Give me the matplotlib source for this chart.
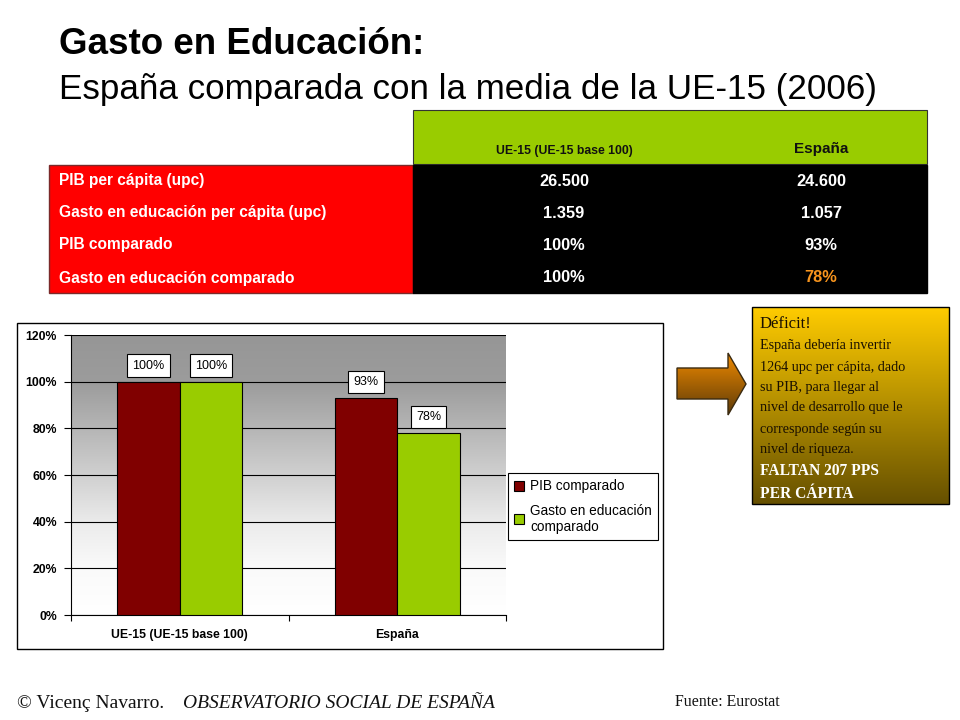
import numpy as np
import matplotlib
matplotlib.use("Agg")
import matplotlib.pyplot as plt
from matplotlib.colors import LinearSegmentedColormap
from matplotlib.patches import Polygon, Rectangle

SANS = "Liberation Sans"
SERIF = "Liberation Serif"

categories = ["UE-15 (UE-15 base 100)", "España"]
pib_comparado = [100, 93]
gasto_comparado = [100, 78]
series_names = ["PIB comparado", "Gasto en educación\ncomparado"]
y_ticks = [0, 20, 40, 60, 80, 100, 120]

row_labels = ["PIB per cápita (upc)", "Gasto en educación per cápita (upc)",
              "PIB comparado", "Gasto en educación comparado"]
col_ue15 = ["26.500", "1.359", "100%", "100%"]
col_espana = ["24.600", "1.057", "93%", "78%"]

note_lines = ["España debería invertir", "1264 upc per cápita, dado", "su PIB, para llegar al",
              "nivel de desarrollo que le", "corresponde según su", "nivel de riqueza."]

W, H = 960, 720
fig = plt.figure(figsize=(9.6, 7.2), dpi=100, facecolor="white")

# full-figure layer, in pixels, for the slide furniture
bg = fig.add_axes([0, 0, 1, 1], zorder=0)
bg.axis("off")


def vgrad(c1, c2):
    return LinearSegmentedColormap.from_list("g", [c1, c2])


ramp = np.linspace(0, 1, 256).reshape(-1, 1)

bg.text(59, 45, "Gasto en Educación:", family=SANS, weight="bold", fontsize=26.5, va="center", color="black")
bg.text(59, 89, "España comparada con la media de la UE-15 (2006)", family=SANS, fontsize=25.2, va="center", color="black")

# table
bg.add_patch(Rectangle((413, 110), 514, 54, fc="#99CC00", ec="#333333", lw=0.8))
bg.add_patch(Rectangle((48.5, 164.5), 364.5, 128.5, fc="#FF0000", ec="#7a2a2a", lw=1))
bg.add_patch(Rectangle((413, 164.5), 514, 128.5, fc="black", ec="black", lw=1))
bg.text(564.5, 151, categories[0], family=SANS, weight="bold", fontsize=8.8, ha="center", va="center", color="#111111")
bg.text(821, 149, categories[1], family=SANS, weight="bold", fontsize=11, ha="center", va="center", color="#111111")
row_y = [181, 213, 245, 278]
for y, lab, a, b in zip(row_y, row_labels, col_ue15, col_espana):
    bg.text(59, y, lab, family=SANS, weight="bold", fontsize=11.2, va="center", color="white")
    bg.text(564, y, a, family=SANS, weight="bold", fontsize=11.8, ha="center", va="center", color="white")
    bg.text(821, y, b, family=SANS, weight="bold", fontsize=11.8, ha="center", va="center",
            color="#F7941D" if b == "78%" else "white")

# chart frame
bg.add_patch(Rectangle((16.5, 322.5), 646, 326.5, fc="white", ec="black", lw=1))

# arrow
arrow_pts = [(677, 368), (728, 368), (728, 353), (746, 384), (728, 415), (728, 399), (677, 399)]
arrow_im = bg.imshow(ramp, extent=[677, 746, 415, 353], cmap=vgrad("#F08A00", "#5C3A08"), aspect="auto", zorder=2)
arrow = Polygon(arrow_pts, closed=True, fc="none", ec="#3a2a10", lw=1, zorder=3)
bg.add_patch(arrow)
arrow_im.set_clip_path(arrow)

# note box
bg.imshow(ramp, extent=[752, 949, 504, 307], cmap=vgrad("#FFCC00", "#665000"), aspect="auto", zorder=2)
bg.add_patch(Rectangle((752, 307), 197, 197, fc="none", ec="black", lw=1, zorder=3))
bg.text(760, 324, "Déficit!", family=SERIF, fontsize=12, va="center", color="#1a1000", zorder=4)
for y, line in zip([346, 367, 387, 408, 429, 450], note_lines):
    bg.text(760, y, line, family=SERIF, fontsize=10.2, va="center", color="#1a1000", zorder=4)
bg.text(760, 471, "FALTAN 207 PPS", family=SERIF, weight="bold", fontsize=11.2, va="center", color="white", zorder=4)
bg.text(760, 494, "PER CÁPITA", family=SERIF, weight="bold", fontsize=11.2, va="center", color="white", zorder=4)

# footer
t = bg.text(17, 703, "© Vicenç Navarro. ", family=SERIF, fontsize=14, va="center", color="#111111")
bg.text(183, 703, "OBSERVATORIO SOCIAL DE ESPAÑA", family=SERIF, style="italic", fontsize=14, va="center", color="#111111")
bg.text(675, 702, "Fuente: Eurostat", family=SERIF, fontsize=11.4, va="center", color="#111111")

bg.set_xlim(0, W)
bg.set_ylim(H, 0)

# bar chart
L, R, T, B = 71, 506, 335, 615
ax = fig.add_axes([L / W, 1 - B / H, (R - L) / W, (B - T) / H], zorder=2)
ax.set_facecolor("none")
cmap = LinearSegmentedColormap.from_list(
    "plot", [(0, "#FFFFFF"), (0.17, "#FAFAFA"), (0.33, "#EBEBEB"), (0.5, "#D0D0D0"),
             (0.67, "#B5B5B5"), (0.83, "#9C9C9C"), (1, "#969696")])
ax.imshow(ramp[::-1], extent=[0, 2, 0, 120], cmap=cmap, aspect="auto", zorder=0)

x = np.arange(len(categories)) + 0.5
width = 0.288
b1 = ax.bar(x - width / 2, pib_comparado, width, color="#800000", edgecolor="black", lw=0.8, zorder=3, label=series_names[0])
b2 = ax.bar(x + width / 2, gasto_comparado, width, color="#99CC00", edgecolor="black", lw=0.8, zorder=3, label=series_names[1])
for bars in (b1, b2):
    for r in bars:
        ax.annotate(f"{r.get_height():.0f}%", (r.get_x() + r.get_width() / 2, r.get_height()),
                    xytext=(0, 10), textcoords="offset pixels", ha="center", va="bottom",
                    family=SANS, fontsize=9, color="black", zorder=5,
                    bbox=dict(boxstyle="square,pad=0.42", fc="white", ec="black", lw=0.8))

ax.set_xlim(0, 2)
ax.set_ylim(0, 120)
ax.set_yticks(y_ticks)
ax.set_yticklabels([f"{v}%" for v in y_ticks], family=SANS, weight="bold", fontsize=8.8)
ax.set_xticks([0, 1, 2])
ax.set_xticklabels([])
ax.set_xticks(x, minor=True)
ax.set_xticklabels(categories, minor=True, family=SANS, weight="bold", fontsize=8.8)
ax.tick_params(axis="x", which="minor", length=0, pad=10)
ax.tick_params(axis="x", which="major", length=4, width=0.8, color="black")
ax.tick_params(axis="y", length=5, width=0.8, color="black", pad=5)
ax.grid(axis="y", color="black", lw=0.8, zorder=1)
ax.set_axisbelow(False)
for s in ("top", "right"):
    ax.spines[s].set_visible(False)
for s in ("left", "bottom"):
    ax.spines[s].set_color("black")
    ax.spines[s].set_linewidth(0.8)
    ax.spines[s].set_zorder(2)
for gl in ax.get_ygridlines():
    gl.set_zorder(1)

leg = ax.legend(handles=[b1, b2], loc="center", bbox_to_anchor=(583 / W, 1 - 506.5 / H), bbox_transform=fig.transFigure,
                frameon=True, fancybox=False, edgecolor="black", framealpha=1, prop=dict(family=SANS, size=9.8),
                handlelength=0.75, handleheight=0.75, handletextpad=0.45, labelspacing=0.75, borderpad=0.45, borderaxespad=0)
leg.get_frame().set_linewidth(0.8)

fig.savefig("out.png", dpi=100)
